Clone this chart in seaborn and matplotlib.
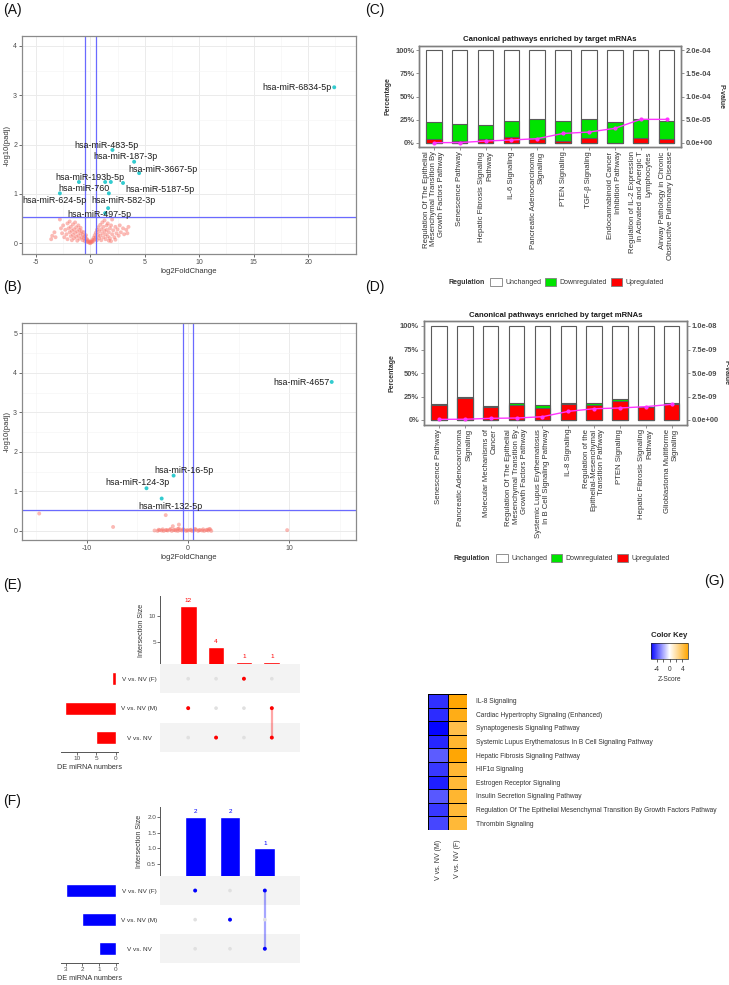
import numpy as np
import pandas as pd
import seaborn as sns
import matplotlib.pyplot as plt
from matplotlib.patches import Patch
from matplotlib.colors import LinearSegmentedColormap

sns.set_style('white')
plt.rcParams['font.family'] = ['Liberation Sans', 'DejaVu Sans']
plt.rcParams['axes.unicode_minus'] = False

# ---------------- data ----------------
# (A) volcano, V vs NV (M)
a_ns_x = [-3.6, -3.5, -3.3, -3.2, -2.8, -2.7, -2.6, -2.5, -2.4, -2.3,
          -2.2, -2.1, -2.1, -2.0, -1.9, -1.9, -1.8, -1.8, -1.7, -1.7,
          -1.6, -1.6, -1.5, -1.5, -1.4, -1.4, -1.3, -1.3, -1.2, -1.2,
          -1.1, -1.1, -1.0, -1.0, -0.9, -0.9, -0.8, -0.8, -0.7, -0.7,
          -0.6, -0.6, -0.5, -0.5, -0.4, -0.4, -0.3, -0.3, -0.2, -0.2,
          -0.1, -0.1, 0.0, 0.0,
          0.1, 0.1, 0.2, 0.2, 0.3, 0.3, 0.4, 0.4, 0.5, 0.5,
          0.6, 0.6, 0.7, 0.7, 0.8, 0.8, 0.9, 0.9, 1.0, 1.0,
          1.1, 1.1, 1.2, 1.2, 1.3, 1.3, 1.4, 1.4, 1.5, 1.5,
          1.6, 1.6, 1.7, 1.7, 1.8, 1.8, 1.9, 1.9, 2.0, 2.0,
          2.1, 2.2, 2.3, 2.3, 2.4, 2.5, 2.6, 2.7, 2.8, 3.0,
          3.1, 3.3, 3.4, 3.5]
a_ns_y = [0.08, 0.15, 0.22, 0.12, 0.48, 0.30, 0.20, 0.36, 0.12, 0.27,
          0.18, 0.40, 0.08, 0.30, 0.22, 0.44, 0.14, 0.33, 0.25, 0.06,
          0.38, 0.17, 0.28, 0.10, 0.21, 0.42, 0.32, 0.13, 0.24, 0.05,
          0.36, 0.16, 0.27, 0.09, 0.20, 0.31, 0.12, 0.24, 0.06, 0.17,
          0.22, 0.10, 0.14, 0.04, 0.09, 0.16, 0.03, 0.08, 0.05, 0.02,
          0.01, 0.03, 0.00, 0.02,
          0.02, 0.04, 0.07, 0.03, 0.11, 0.05, 0.16, 0.08, 0.21, 0.12,
          0.27, 0.06, 0.17, 0.32, 0.10, 0.24, 0.37, 0.15, 0.28, 0.06,
          0.20, 0.42, 0.12, 0.33, 0.25, 0.46, 0.08, 0.18, 0.36, 0.27,
          0.14, 0.40, 0.22, 0.05, 0.30, 0.10, 0.36, 0.04, 0.18, 0.48,
          0.26, 0.12, 0.33, 0.07, 0.20, 0.28, 0.15, 0.36, 0.22, 0.30,
          0.18, 0.27, 0.20, 0.33]
a_sig_x = [22.4, 2.03, 4.02, 4.48, -1.05, 1.36, 1.88, 3.0, 1.7, -2.8, 1.63, 1.36]
a_sig_y = [3.16, 1.89, 1.65, 1.42, 1.24, 1.24, 1.24, 1.22, 1.01, 1.01, 0.71, 0.61]
a_labels = ['hsa-miR-6834-5p', 'hsa-miR-483-5p', 'hsa-miR-187-3p', 'hsa-miR-3667-5p',
            'hsa-miR-193b-5p', 'hsa-miR-760', 'hsa-miR-5187-5p', 'hsa-miR-624-5p',
            'hsa-miR-582-3p', 'hsa-miR-497-5p']
a_label_x = [19.0, 1.48, 3.24, 6.68, -0.06, -0.63, 6.38, -3.26, 3.0, 0.8]
a_label_y = [3.15, 1.98, 1.75, 1.50, 1.34, 1.10, 1.09, 0.86, 0.86, 0.58]

# (B) volcano, V vs NV (F)
b_ns_x = [-14.7, -7.4, -2.2, -1.5, -0.9, -1.0, 9.8,
          -3.3, -3.0, -2.8, -2.6, -2.4, -2.2, -2.0, -1.8, -1.6, -1.4,
          -1.2, -1.0, -0.8, -0.6, -0.4, -0.2, 0.0, 0.2, 0.4, 0.6,
          0.8, 1.0, 1.2, 1.4, 1.6, 1.8, 2.0, 2.2, 2.3,
          -2.9, -2.5, -2.1, -1.7, -1.3, -0.9, -0.5, -0.1, 0.3, 0.7,
          1.1, 1.5, 1.9, 2.1]
b_ns_y = [0.44, 0.10, 0.40, 0.12, 0.16, 0.05, 0.02,
          0.01, 0.00, 0.02, 0.01, 0.00, 0.02, 0.01, 0.03, 0.00, 0.02,
          0.01, 0.00, 0.02, 0.01, 0.03, 0.00, 0.01, 0.02, 0.00, 0.01,
          0.03, 0.00, 0.02, 0.01, 0.00, 0.02, 0.01, 0.04, 0.00,
          0.03, 0.04, 0.02, 0.05, 0.03, 0.06, 0.04, 0.02, 0.03, 0.05,
          0.02, 0.04, 0.03, 0.05]
b_sig_x = [14.2, -1.42, -4.1, -2.6]
b_sig_y = [3.77, 1.40, 1.08, 0.82]
b_labels = ['hsa-miR-4657', 'hsa-miR-16-5p', 'hsa-miR-124-3p', 'hsa-miR-132-5p']
b_label_x = [11.25, -0.44, -4.97, -1.75]
b_label_y = [3.76, 1.53, 1.22, 0.63]

# (C) canonical pathways
c_paths = ['Regulation Of The Epithelial\nMesenchymal Transition By\nGrowth Factors Pathway',
           'Senescence Pathway',
           'Hepatic Fibrosis Signaling\nPathway',
           'IL-6 Signaling',
           'Pancreatic Adenocarcinoma\nSignaling',
           'PTEN Signaling',
           'TGF-β Signaling',
           'Endocannabinoid Cancer\nInhibition Pathway',
           'Regulation of IL-2 Expression\nin Activated and Anergic T\nLymphocytes',
           'Airway Pathology in Chronic\nObstructive Pulmonary Disease']
c_up = [4, 2, 3.5, 6.5, 4, 2, 5.4, 0, 5.4, 4]
c_down = [18.7, 18.6, 15.3, 17.3, 21.6, 21, 20.2, 22.4, 20.2, 19.5]
c_pval = [0.1e-6, 0.2e-6, 3.6e-6, 5.8e-6, 8.7e-6, 2.0e-5, 2.3e-5, 3.1e-5, 5.05e-5, 5.05e-5]

# (D) canonical pathways
d_paths = ['Senescence Pathway',
           'Pancreatic Adenocarcinoma\nSignaling',
           'Molecular Mechanisms of\nCancer',
           'Regulation Of The Epithelial\nMesenchymal Transition By\nGrowth Factors Pathway',
           'Systemic Lupus Erythematosus\nIn B Cell Signaling Pathway',
           'IL-8 Signaling',
           'Regulation of the\nEpithelial-Mesenchymal\nTransition Pathway',
           'PTEN Signaling',
           'Hepatic Fibrosis Signaling\nPathway',
           'Glioblastoma Multiforme\nSignaling']
d_up = [15.6, 23.8, 13.5, 16, 12.8, 17, 16, 19.9, 13.5, 16.7]
d_down = [1.1, 0.2, 1.0, 1.7, 2.8, 1.0, 2.0, 2.1, 0.7, 1.3]
d_pval = [0.7e-10, 0.8e-10, 1.8e-10, 2.1e-10, 3.5e-10, 9.2e-10, 1.2e-9, 1.28e-9, 1.42e-9, 1.67e-9]

# (E) / (F) upset
sets = ['V vs. NV (F)', 'V vs. NV (M)', 'V vs. NV']
e_set_sizes = [1, 13, 5]
e_inter_sizes = [12, 4, 1, 1]
e_members = [[1], [2], [0], [1, 2]]
f_set_sizes = [3, 2, 1]
f_inter_sizes = [2, 2, 1]
f_members = [[0], [1], [0, 2]]

# (G) heatmap
g_paths = ['IL-8 Signaling',
           'Cardiac Hypertrophy Signaling (Enhanced)',
           'Synaptogenesis Signaling Pathway',
           'Systemic Lupus Erythematosus In B Cell Signaling Pathway',
           'Hepatic Fibrosis Signaling Pathway',
           'HIF1α Signaling',
           'Estrogen Receptor Signaling',
           'Insulin Secretion Signaling Pathway',
           'Regulation Of The Epithelial Mesenchymal Transition By Growth Factors Pathway',
           'Thrombin Signaling']
g_cols = ['V vs. NV (M)', 'V vs. NV (F)']
g_z_m = [-4.7, -4.8, -5.7, -4.9, -3.7, -4.5, -5.1, -3.8, -4.5, -4.2]
g_z_f = [5.7, 5.3, 4.1, 4.7, 5.7, 4.6, 4.5, 4.7, 4.5, 4.5]

# ---------------- figure ----------------
W, H = 729, 985
fig = plt.figure(figsize=(W / 100, H / 100), dpi=100)

GREEN = '#00E400'
RED = '#FF0000'
TXT = '#4D4D4D'


def px_axes(x0, y0, x1, y1):
    return fig.add_axes([x0 / W, 1 - y1 / H, (x1 - x0) / W, (y1 - y0) / H])


def fig_text(x, y, s, **kw):
    fig.text(x / W, 1 - y / H, s, **kw)


for lab, (x, y) in zip(['(A)', '(B)', '(C)', '(D)', '(E)', '(F)', '(G)'],
                       [(3, 10), (3, 287), (365, 10), (365, 287), (3, 585), (3, 801), (704, 581)]):
    fig_text(x, y, lab, fontsize=10, va='center', ha='left', color='#111111')


# volcano plots
def volcano(box, ns_x, ns_y, sig_x, sig_y, labels, lx, ly, xlim, ylim, xmaj, xmin, ymaj, ymin):
    ax = px_axes(*box)
    ax.set_xlim(xlim)
    ax.set_ylim(ylim)
    ax.set_xticks(xmaj)
    ax.set_xticks(xmin, minor=True)
    ax.set_yticks(ymaj)
    ax.set_yticks(ymin, minor=True)
    ax.grid(which='major', color='#EBEBEB', lw=0.7)
    ax.grid(which='minor', color='#F5F5F5', lw=0.5)
    ax.set_axisbelow(True)
    sns.scatterplot(x=ns_x, y=ns_y, color='#F8766D', alpha=0.5, s=8, edgecolor='none', ax=ax)
    sns.scatterplot(x=sig_x, y=sig_y, color='#00BFC4', alpha=0.8, s=8, edgecolor='none', ax=ax)
    for v in (-0.5, 0.5):
        ax.axvline(v, color='#6A6AFF', lw=0.9)
    ax.axhline(-np.log10(0.3), color='#6A6AFF', lw=0.9)
    for t, x, y in zip(labels, lx, ly):
        ax.text(x, y, t, ha='center', va='center', fontsize=6.4, color='#1A1A1A')
    ax.tick_params(which='major', length=2, width=0.5, color='#333333', labelsize=5,
                   labelcolor=TXT, pad=1.5, bottom=True, left=True)
    ax.tick_params(which='minor', length=0)
    ax.set_xlabel('log2FoldChange', fontsize=5.5, color='#333333', labelpad=1.5)
    ax.set_ylabel('-log10(padj)', fontsize=5.5, color='#333333', labelpad=2)
    for sp in ax.spines.values():
        sp.set_color('#8A8A8A')
        sp.set_linewidth(0.9)


volcano((22, 36, 356, 254), a_ns_x, a_ns_y, a_sig_x, a_sig_y, a_labels, a_label_x, a_label_y,
        (-6.28, 24.4), (-0.22, 4.2), [-5, 0, 5, 10, 15, 20], [-2.5, 2.5, 7.5, 12.5, 17.5, 22.5],
        [0, 1, 2, 3, 4], [0.5, 1.5, 2.5, 3.5])
volcano((22, 322.7, 356, 540), b_ns_x, b_ns_y, b_sig_x, b_sig_y, b_labels, b_label_x, b_label_y,
        (-16.4, 16.6), (-0.23, 5.27), [-10, 0, 10], [-15, -5, 5, 15],
        [0, 1, 2, 3, 4, 5], [0.5, 1.5, 2.5, 3.5, 4.5])


# pathway bar charts
def pathways(box, names, up, down, pvals, pmax, xlim, title_pad, legend_y, legend_x):
    ax = px_axes(*box)
    n = len(names)
    changed = [u + d for u, d in zip(up, down)]
    kw = dict(order=names, width=0.6, saturation=1, errorbar=None,
              edgecolor='#5A5A5A', linewidth=0.8, ax=ax)
    sns.barplot(x=names, y=[100] * n, color='white', **kw)
    sns.barplot(x=names, y=changed, color=GREEN, **kw)
    sns.barplot(x=names, y=up, color=RED, **kw)
    ax.set_xlim(xlim)
    ax.set_ylim(-5, 105)
    ax.set_yticks([0, 25, 50, 75, 100])
    ax.set_yticklabels(['0%', '25%', '50%', '75%', '100%'], fontweight='bold')
    ax.set_xticks(range(n))
    ax.set_xticklabels(names, rotation=90, ha='center', va='top', multialignment='right',
                       fontsize=5.6, color='#333333', linespacing=1.15)
    ax.tick_params(axis='y', length=2, width=0.6, color='#7F7F7F', labelsize=5.4,
                   labelcolor=TXT, pad=1.5, left=True)
    ax.tick_params(axis='x', length=2, width=0.6, color='#7F7F7F', pad=1, bottom=True)
    ax.set_xlabel('')
    ax.set_ylabel('Percentage', fontsize=5, fontweight='bold', color='#333333', labelpad=3)
    ax.set_title('Canonical pathways enriched by target mRNAs', fontsize=5.6,
                 fontweight='bold', color='#1A1A1A', pad=title_pad)
    ax2 = ax.twinx()
    ax2.plot(np.arange(n), pvals, color='#FF33FF', lw=1, marker='o', ms=2)
    ax2.set_ylim(-0.05 * pmax, 1.05 * pmax)
    pt = [0, 0.25 * pmax, 0.5 * pmax, 0.75 * pmax, pmax]
    ax2.set_yticks(pt)
    ax2.set_yticklabels([f'{v:.1e}' for v in pt], fontweight='bold')
    ax2.tick_params(axis='y', length=2, width=0.6, color='#7F7F7F', labelsize=5.4,
                    labelcolor=TXT, pad=1.5, right=True)
    ax2.set_ylabel('P-value', rotation=270, va='bottom', fontsize=5, fontweight='bold',
                   color='#333333', labelpad=3)
    for a in (ax, ax2):
        for sp in a.spines.values():
            sp.set_color('#7F7F7F')
            sp.set_linewidth(1.0)
    # legend
    fig_text(legend_x, legend_y, 'Regulation', fontsize=5, fontweight='bold', va='center',
             color='#333333')
    handles = [Patch(facecolor='white', edgecolor='#7F7F7F', lw=0.6),
               Patch(facecolor=GREEN, edgecolor='#7F7F7F', lw=0.6),
               Patch(facecolor=RED, edgecolor='#7F7F7F', lw=0.6)]
    fig.legend(handles, ['Unchanged', 'Downregulated', 'Upregulated'], ncol=3,
               loc='center left', bbox_to_anchor=((legend_x + 39) / W, 1 - legend_y / H),
               frameon=False, fontsize=5, handlelength=1.6, handleheight=1.6,
               handletextpad=0.5, columnspacing=0.6, borderpad=0, labelcolor='#333333')


pathways((419.3, 45.7, 681, 147.3), c_paths, c_up, c_down, c_pval, 2e-4, (-0.56, 9.56),
         3.2, 282, 448)
pathways((424, 321.3, 686.7, 424.7), d_paths, d_up, d_down, d_pval, 1e-8, (-0.58, 9.58),
         2.8, 558, 454)


# upset plots
def upset(bar_box, mat_box, set_box, set_sizes, inter_sizes, members, color,
          bar_ylim, bar_ticks, bar_ticklabels, set_xlim, set_ticks):
    n = len(inter_sizes)
    cols = [f'c{i}' for i in range(n)]
    axb = px_axes(*bar_box)
    sns.barplot(x=cols, y=inter_sizes, order=cols, color=color, saturation=1, width=0.6,
                errorbar=None, ax=axb)
    axb.set_xlim(-1, n)
    axb.set_ylim(bar_ylim)
    axb.set_yticks(bar_ticks)
    axb.set_yticklabels(bar_ticklabels)
    axb.set_xticks([])
    axb.set_xlabel('')
    axb.set_ylabel('Intersection Size', fontsize=5.2, color='#333333', labelpad=3)
    axb.tick_params(axis='y', length=2, width=0.5, color='#333333', labelsize=4.6,
                    labelcolor=TXT, pad=1, left=True)
    for k in ('top', 'right', 'bottom'):
        axb.spines[k].set_visible(False)
    axb.spines['left'].set_color('#555555')
    axb.spines['left'].set_linewidth(0.7)
    for i, v in enumerate(inter_sizes):
        axb.annotate(str(v), (i, v), xytext=(0, 2), textcoords='offset points',
                     ha='center', va='bottom', fontsize=4.6, color=color)

    axm = px_axes(*mat_box)
    axm.set_xlim(-1, n)
    axm.set_ylim(2.5, -0.5)
    for r in (0, 2):
        axm.axhspan(r - 0.5, r + 0.5, color='#F3F3F3', lw=0)
    for j, mem in enumerate(members):
        if len(mem) > 1:
            axm.plot([j, j], [min(mem), max(mem)], color=color, alpha=0.35, lw=1.6, zorder=2)
    grid_x = [j for j in range(n) for i in range(3)]
    grid_y = [i for j in range(n) for i in range(3)]
    on_x = [j for j, mem in enumerate(members) for i in mem]
    on_y = [i for j, mem in enumerate(members) for i in mem]
    sns.scatterplot(x=grid_x, y=grid_y, color='#E0E0E0', s=7, edgecolor='none', ax=axm, zorder=3)
    sns.scatterplot(x=on_x, y=on_y, color=color, s=8, edgecolor='none', ax=axm, zorder=4)
    axm.axis('off')

    axs = px_axes(*set_box)
    sns.barplot(x=set_sizes, y=sets, order=sets, orient='h', color=color, saturation=1,
                width=0.45, errorbar=None, ax=axs)
    axs.set_xlim(set_xlim)
    axs.set_ylim(2.5, -0.5)
    axs.set_xticks(set_ticks)
    axs.set_xticklabels([str(t) for t in set_ticks])
    axs.yaxis.tick_right()
    axs.set_yticks([0, 1, 2])
    axs.set_yticklabels(sets)
    axs.tick_params(axis='y', length=0, pad=15, labelsize=4.6, labelcolor='#333333')
    for lab in axs.get_yticklabels():
        lab.set_ha('center')
    axs.tick_params(axis='x', length=2, width=0.5, color='#333333', labelsize=4.6,
                    labelcolor=TXT, pad=1, bottom=True)
    axs.set_ylabel('')
    axs.set_xlabel('DE miRNA numbers', fontsize=5.2, color='#333333', labelpad=1.5)
    for k in ('top', 'right', 'left'):
        axs.spines[k].set_visible(False)
    axs.spines['bottom'].set_color('#555555')
    axs.spines['bottom'].set_linewidth(0.7)


upset((160.3, 596, 299.7, 664), (160.3, 664, 299.7, 752.3), (61.3, 664, 118.3, 752.3),
      e_set_sizes, e_inter_sizes, e_members, '#FF0000',
      (0.66, 13.9), [5, 10], ['5', '10'], (13.95, -0.67), [10, 5, 0])
upset((160.3, 807.3, 299.7, 876), (160.3, 876, 299.7, 963.3), (61.3, 876, 118.3, 963.3),
      f_set_sizes, f_inter_sizes, f_members, '#0000FF',
      (0.115, 2.32), [0.5, 1.0, 1.5, 2.0], ['0.5', '1.0', '1.5', '2.0'], (3.26, -0.16), [3, 2, 1, 0])

# heatmap (G)
cmap = LinearSegmentedColormap.from_list('bwo', ['#0000FF', '#FFFFFF', '#FFA500'])
g_df = pd.DataFrame({g_cols[0]: g_z_m, g_cols[1]: g_z_f}, index=g_paths)
axg = px_axes(428.3, 694, 467.3, 830)
cax = px_axes(650.7, 642.7, 688.3, 658.7)
sns.heatmap(g_df, ax=axg, cmap=cmap, vmin=-5.8, vmax=5.8, linewidths=0.7, linecolor='black',
            xticklabels=True, yticklabels=True,
            cbar_ax=cax, cbar_kws={'orientation': 'horizontal', 'ticks': [-4, -2, 0, 2, 4]})
axg.yaxis.tick_right()
axg.set_yticks(np.arange(len(g_paths)) + 0.5)
axg.set_yticklabels(g_paths, rotation=0, fontsize=4.8, color='#333333')
axg.set_xticks(np.arange(len(g_cols)) + 0.5)
axg.set_xticklabels(g_cols, rotation=90, fontsize=5.0, color='#333333', va='top', ha='center')
axg.tick_params(length=0, pad=6)
axg.tick_params(axis='x', pad=7)
cbar = axg.collections[0].colorbar
cbar.set_ticks([-4, -2, 0, 2, 4])
cbar.set_ticklabels(['-4', '', '0', '', '4'])
cbar.ax.tick_params(labelsize=4.8, length=2.5, width=0.5, pad=2.5, labelcolor='#333333')
cbar.outline.set_linewidth(0.5)
cbar.ax.set_xlabel('Z-Score', fontsize=4.8, color='#333333', labelpad=2.5)
fig_text(669, 635.3, 'Color Key', fontsize=5.6, fontweight='bold', ha='center', va='center',
         color='#222222')

fig.savefig('out.png', dpi=100)
